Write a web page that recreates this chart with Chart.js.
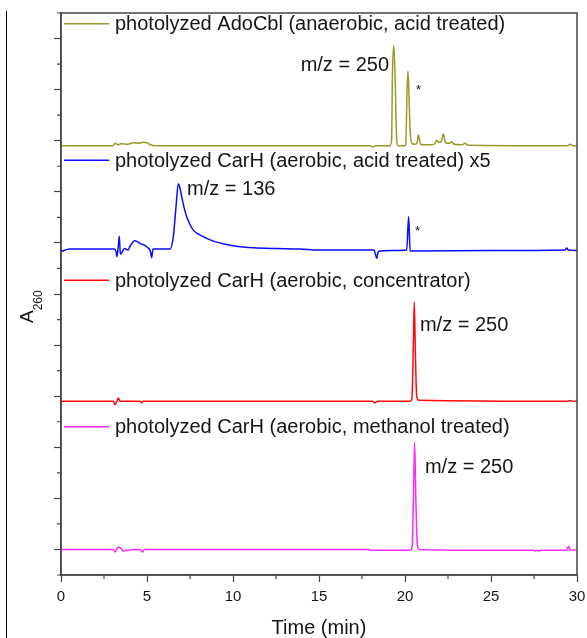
<!DOCTYPE html>
<html>
<head>
<meta charset="utf-8">
<script src="https://cdn.jsdelivr.net/npm/chart.js@4.4.1/dist/chart.umd.min.js"></script>
<style>
  html, body { margin: 0; padding: 0; background: #fff; }
  #wrap { position: relative; width: 587px; height: 638px; }
  #edge { position: absolute; left: 6px; top: 11px; bottom: 0; border-left: 1.5px solid #000; }
  canvas { position: absolute; left: 0; top: 0; }
</style>
</head>
<body>
<div id="wrap">
  <div id="edge"></div>
  <canvas id="chart-hplc" width="587" height="638"></canvas>
</div>
<script>
// trace names (legend), top to bottom
const traceNames = [
  "photolyzed AdoCbl (anaerobic, acid treated)",
  "photolyzed CarH (aerobic, acid treated) x5",
  "photolyzed CarH (aerobic, concentrator)",
  "photolyzed CarH (aerobic, methanol treated)",
];

// stacking offset of each trace on the shared A260 axis
const traceOffsets = [7.9, 5.88, 2.9, 0];

// retention time (min) and absorbance above baseline
const adoTime = [0, 3.0, 3.15, 3.3, 3.5, 3.9, 4.2, 4.5, 4.8, 5.0, 5.2, 5.5, 18.0, 18.1, 18.3, 19.1, 19.22, 19.27, 19.35, 19.42, 19.52, 19.6, 20.0, 20.05, 20.12, 20.17, 20.22, 20.3, 20.4, 20.55, 20.7, 20.78, 20.9, 21.2, 21.7, 21.84, 21.95, 22.1, 22.23, 22.35, 22.6, 22.71, 22.85, 23.3, 23.49, 23.65, 29.4, 29.6, 29.8, 30];
const adoA260 = [0, 0, 0.05, 0.02, 0.04, 0.03, 0.06, 0.05, 0.07, 0.06, 0.02, 0, 0, -0.02, 0, 0, 0.1, 1.4, 1.97, 1.4, 0.1, 0, 0, 0.05, 1.1, 1.46, 1.1, 0.3, 0.05, 0.03, 0.06, 0.21, 0.03, 0.02, 0.03, 0.11, 0.07, 0.08, 0.23, 0.06, 0.05, 0.08, 0.03, 0.02, 0.05, 0.01, 0, 0.03, 0, 0];

const acidTime = [0, 0.5, 3.1, 3.2, 3.25, 3.33, 3.39, 3.45, 3.7, 3.9, 4.0, 4.3, 4.6, 4.98, 5.2, 5.27, 5.35, 6.34, 6.53, 6.68, 6.82, 6.9, 7.02, 7.15, 7.31, 7.5, 7.69, 8.0, 8.47, 9.0, 9.63, 10.3, 11.18, 12.5, 13.9, 15.0, 18.2, 18.36, 18.45, 19.2, 20.1, 20.21, 20.3, 20.5, 25, 29.3, 29.4, 29.5, 30];
const acidA260 = [-0.05, 0, 0, -0.05, -0.15, 0.05, 0.25, -0.1, 0.01, -0.02, 0.045, 0.16, 0.11, 0.045, -0.05, -0.17, 0, 0, 0.24, 0.8, 1.28, 1.22, 1.02, 0.82, 0.63, 0.48, 0.37, 0.29, 0.21, 0.14, 0.09, 0.05, 0.025, 0.01, 0, -0.02, -0.02, -0.18, -0.05, -0.03, -0.02, 0.63, -0.04, -0.04, -0.03, -0.02, 0.02, -0.02, -0.03];

const concTime = [0, 3.05, 3.14, 3.25, 3.33, 3.45, 4.6, 4.69, 4.78, 18.1, 18.26, 18.4, 20.3, 20.4, 20.48, 20.54, 20.6, 20.68, 20.8, 29.4, 29.6, 29.8, 30];
const concA260 = [0, 0, -0.065, 0, 0.066, 0, 0, -0.03, 0, 0, -0.03, 0, 0, 0.05, 1.0, 1.95, 1.0, 0.1, 0.02, 0, 0.015, 0, 0];

const methTime = [0, 3.05, 3.14, 3.25, 3.33, 3.5, 3.6, 3.75, 4.6, 4.74, 4.85, 17.9, 17.97, 20.3, 20.42, 20.49, 20.56, 20.63, 20.72, 20.85, 22.3, 22.4, 27.5, 27.6, 27.7, 27.8, 27.9, 29.4, 29.5, 29.6, 30];
const methA260 = [0, 0, -0.05, 0.01, 0.05, 0.02, -0.03, -0.02, 0, -0.05, 0, 0, -0.015, -0.015, 0.05, 1.0, 2.1, 1.0, 0.08, 0, -0.01, -0.015, -0.015, -0.03, -0.015, -0.03, -0.015, -0.015, 0.065, -0.01, -0.01];

const traceTimes = [adoTime, acidTime, concTime, methTime];
const traceValues = [adoA260, acidA260, concA260, methA260];

// axis ticks
const xMinorTicks = [2.5, 7.5, 12.5, 17.5, 22.5, 27.5];
const yMajorTicks = [0, 1, 2, 3, 4, 5, 6, 7, 8, 9, 10];
const yMinorTicks = [-0.5, 0.5, 1.5, 2.5, 3.5, 4.5, 5.5, 6.5, 7.5, 8.5, 9.5, 10.5];

// peak labels: text, time, A260
const peakNotes = [
  ["m/z = 250", 19.07, 9.47, "right", 20],
  ["*", 20.64, 8.98, "left", 13],
  ["m/z = 136", 7.33, 7.05, "left", 20],
  ["*", 20.58, 6.23, "left", 13],
  ["m/z = 250", 20.87, 4.38, "left", 20],
  ["m/z = 250", 21.16, 1.6, "left", 20],
];
// legend row height on the A260 axis for each trace
const legendRows = [10.29, 7.62, 5.27, 2.4];

const traceColors = ["#9a9a2c", "#0a0aff", "#ff0a0a", "#ff28ff"];
const axisColor = "#454545";
const textColor = "#161616";
const fontFamily = "'Liberation Sans', Arial, sans-serif";

const datasetsHplc = traceNames.map((name, i) => ({
  label: name,
  data: traceTimes[i].map((t, k) => ({ x: t, y: traceOffsets[i] + traceValues[i][k] })),
  borderColor: traceColors[i],
  borderWidth: 1.5,
  pointRadius: 0,
  cubicInterpolationMode: "monotone",
  fill: false,
}));

// frame, minor ticks, legend rows, peak labels and the A260 title
const hplcDecor = {
  id: "hplcDecor",
  afterDraw(chart) {
    const { ctx, chartArea: a, scales: { x, y } } = chart;
    ctx.save();

    ctx.strokeStyle = axisColor;
    ctx.lineWidth = 1.5;
    ctx.strokeRect(a.left, a.top, a.right - a.left, a.bottom - a.top);

    ctx.lineWidth = 1.2;
    ctx.beginPath();
    xMinorTicks.forEach((v) => {
      const px = x.getPixelForValue(v);
      ctx.moveTo(px, a.bottom);
      ctx.lineTo(px, a.bottom + 4);
    });
    yMinorTicks.forEach((v) => {
      const py = y.getPixelForValue(v);
      ctx.moveTo(a.left, py);
      ctx.lineTo(a.left - 4, py);
    });
    ctx.stroke();

    ctx.fillStyle = textColor;
    ctx.textBaseline = "middle";
    ctx.font = "20px " + fontFamily;
    traceNames.forEach((name, i) => {
      const py = y.getPixelForValue(legendRows[i]);
      ctx.strokeStyle = traceColors[i];
      ctx.lineWidth = 1.5;
      ctx.beginPath();
      ctx.moveTo(a.left + 3, py);
      ctx.lineTo(a.left + 48, py);
      ctx.stroke();
      ctx.textAlign = "left";
      ctx.fillText(name, a.left + 54, py + 1);
    });

    peakNotes.forEach(([text, t, v, align, size]) => {
      ctx.font = size + "px " + fontFamily;
      ctx.textAlign = align;
      ctx.fillText(text, x.getPixelForValue(t), y.getPixelForValue(v));
    });

    // A260 with subscript, rotated
    const mid = (a.top + a.bottom) / 2;
    ctx.translate(33, mid + 29);
    ctx.rotate(-Math.PI / 2);
    ctx.textAlign = "left";
    ctx.textBaseline = "alphabetic";
    ctx.font = "19px " + fontFamily;
    ctx.fillText("A", 0, 0);
    const w = ctx.measureText("A").width;
    ctx.font = "12px " + fontFamily;
    ctx.fillText("260", w, 9);
    ctx.restore();
  },
};

new Chart(document.querySelector("#chart-hplc").getContext("2d"), {
  type: "line",
  data: { datasets: datasetsHplc },
  options: {
    responsive: false,
    animation: false,
    layout: { padding: { top: 13, right: 10, left: 0, bottom: 0 } },
    plugins: {
      legend: { display: false },
      tooltip: { enabled: false },
    },
    scales: {
      x: {
        type: "linear",
        min: 0,
        max: 30,
        ticks: { stepSize: 5, color: textColor, padding: 6, font: { family: fontFamily, size: 15 } },
        grid: { drawOnChartArea: false, tickLength: 7, tickColor: axisColor, tickWidth: 1.2 },
        border: { color: axisColor, width: 1.5 },
        title: {
          display: true,
          text: "Time (min)",
          color: textColor,
          font: { family: fontFamily, size: 20, lineHeight: 1 },
          padding: { top: 0, bottom: 0 },
        },
        afterFit: (scale) => {
          scale.height = 63;
          scale.paddingLeft = 0;
          scale.paddingRight = 0;
        },
      },
      y: {
        type: "linear",
        min: -0.5,
        max: 10.5,
        afterBuildTicks: (scale) => { scale.ticks = yMajorTicks.map((v) => ({ value: v })); },
        ticks: { display: false },
        grid: { drawOnChartArea: false, tickLength: 7, tickColor: axisColor, tickWidth: 1.2 },
        border: { color: axisColor, width: 1.5 },
        afterFit: (scale) => { scale.width = 61; },
      },
    },
  },
  plugins: [hplcDecor],
});
</script>
</body>
</html>
